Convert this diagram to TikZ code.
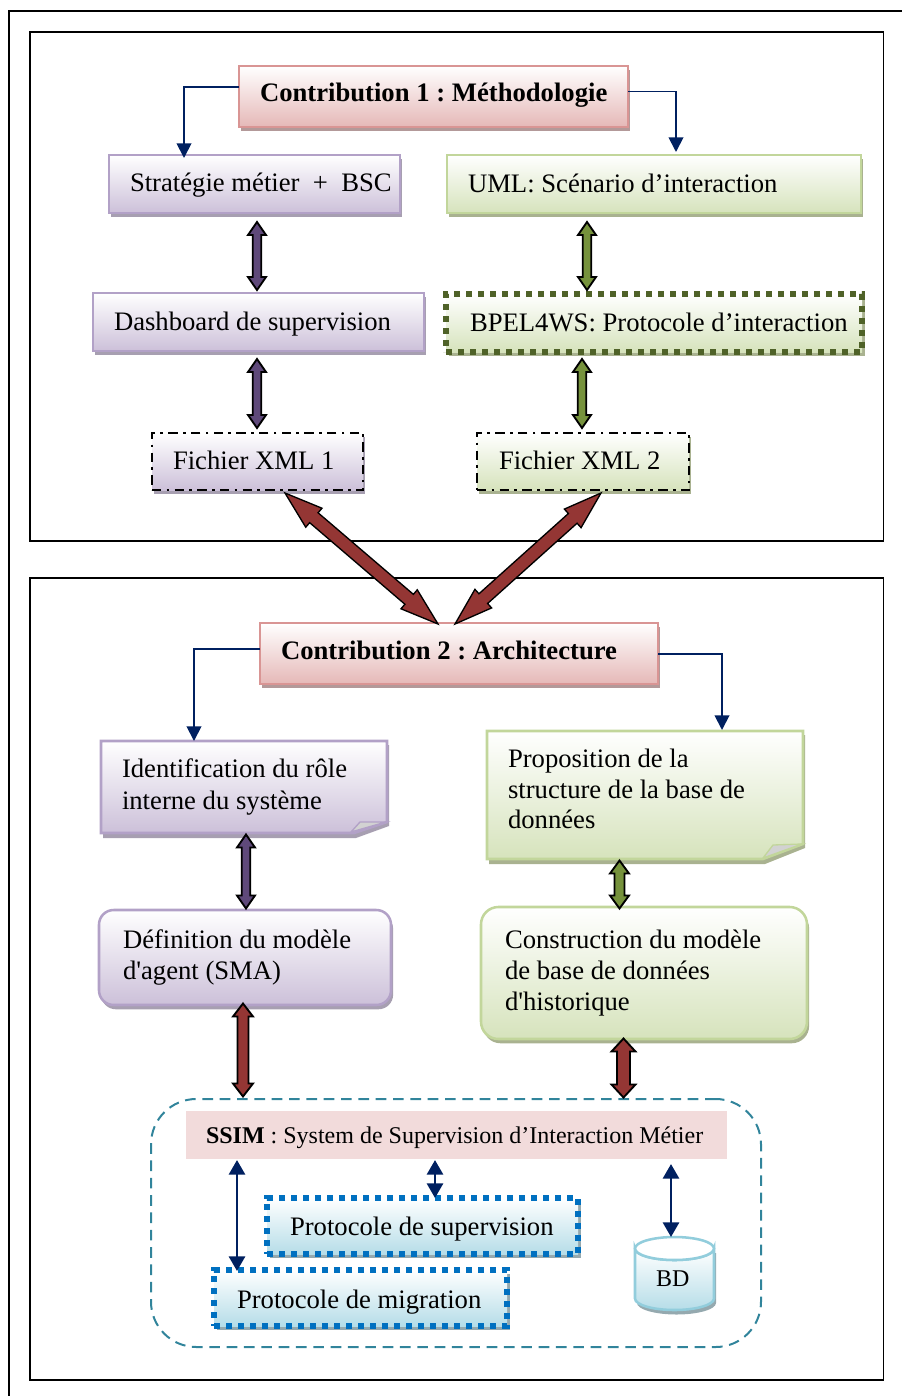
\documentclass[tikz,border=0pt]{standalone}
\usepackage{fontspec}
\setmainfont[Ligatures=TeXOff]{Liberation Serif}
\frenchspacing
\usetikzlibrary{calc,shadows,arrows.meta}
\definecolor{navy}{HTML}{002060}
\definecolor{pborder}{HTML}{B2A1C7}\definecolor{pfill}{HTML}{CCC0D9}\definecolor{pshadow}{HTML}{A79FB1}\definecolor{parrow}{HTML}{5F497A}
\definecolor{gborder}{HTML}{C2D69B}\definecolor{gfill}{HTML}{D6E3BC}\definecolor{gshadow}{HTML}{A9B290}\definecolor{garrow}{HTML}{76923C}\definecolor{gdot}{HTML}{4F6228}
\definecolor{rborder}{HTML}{D99594}\definecolor{rfill}{HTML}{E5B8B7}\definecolor{rshadow}{HTML}{B39999}\definecolor{rarrow}{HTML}{943634}
\definecolor{bborder}{HTML}{92CDDC}\definecolor{bfill}{HTML}{B6DDE8}\definecolor{bshadow}{HTML}{95A9AF}\definecolor{bdot}{HTML}{0070C0}
\definecolor{ssimfill}{HTML}{F2DBDB}\definecolor{cloudline}{HTML}{31849B}
\newcommand\lp[1]{\spaceskip=0pt\xspaceskip=0pt\hspace*{\dimexpr #1pt*3/4\relax}}
\newcommand\vs[2]{\raisebox{\dimexpr -#1pt*3/4\relax}[\height][\depth]{#2}}
% style, name, x1, y1, x2, y2, text
\newcommand\bx[7][]{%
  \pgfmathsetmacro\bwp{(#5-#3)*0.75}%
  \pgfmathsetmacro\bhp{(#6-#4)*0.75}%
  \node[txt,anchor=north west,minimum width=\bwp pt,text width=\bwp pt,minimum height=\bhp pt,#1] (#2) at (#3,#4) {#7};%
}
% colour, start, end, shaft, head width, head length (px)
\newcommand\blockarrow[7][1.4pt]{%
  \coordinate (ba) at #3;\coordinate (bb) at #4;%
  \pgfmathsetmacro\sw{#5*0.375}\pgfmathsetmacro\hw{#6*0.375}\pgfmathsetmacro\hl{#7*0.75}%
  \coordinate (ha) at ($(ba)!\hl pt!(bb)$);\coordinate (hb) at ($(bb)!\hl pt!(ba)$);%
  \draw[fill=#2,draw=black,line width=#1,line join=miter,miter limit=6]
    (ba) -- ($(ha)!\hw pt!90:(bb)$) -- ($(ha)!\sw pt!90:(bb)$) -- ($(hb)!\sw pt!-90:(ba)$) -- ($(hb)!\hw pt!-90:(ba)$)
    -- (bb) -- ($(hb)!\hw pt!90:(ba)$) -- ($(hb)!\sw pt!90:(ba)$) -- ($(ha)!\sw pt!-90:(bb)$) -- ($(ha)!\hw pt!-90:(bb)$) -- cycle;%
}
\tikzset{
  txt/.style={inner xsep=0pt,inner ysep=0pt,outer sep=0pt,align=left,font=\fontsize{20pt}{23pt}\selectfont},
  frameline/.style={draw=black,line width=1.2pt},
  purplebox/.style={draw=pborder,line width=1.9pt,top color=white,bottom color=pfill,general shadow={shadow xshift=1.6pt,shadow yshift=-3.2pt,fill=pshadow}},
  greenbox/.style={draw=gborder,line width=1.9pt,top color=white,bottom color=gfill,general shadow={shadow xshift=1.6pt,shadow yshift=-3.2pt,fill=gshadow}},
  redbox/.style={draw=rborder,line width=1.9pt,top color=white,bottom color=rfill,general shadow={shadow xshift=1.6pt,shadow yshift=-3.2pt,fill=rshadow}},
  greendot/.style={draw=gdot,line width=3.8pt,dash pattern=on 4.6pt off 4.4pt,top color=white,bottom color=gfill,general shadow={shadow xshift=2pt,shadow yshift=-3pt,fill=gshadow}},
  bluedot/.style={draw=bdot,line width=3.8pt,dash pattern=on 4.6pt off 4.4pt,top color=white,bottom color=bfill,general shadow={shadow xshift=2pt,shadow yshift=-3pt,fill=bshadow}},
  xmlline/.style={draw=black,line width=1.4pt,dash pattern=on 7pt off 4pt on 2pt off 4pt},
  thinarrow/.style={draw=navy,line width=1.4pt,-{Triangle[width=11pt,length=11pt]}},
  biarrow/.style={draw=navy,line width=2.2pt,{Triangle[width=12pt,length=11pt]}-{Triangle[width=12pt,length=11pt]}},
}
\begin{document}
\begin{tikzpicture}[x=0.75pt,y=-0.75pt]
\useasboundingbox (0,0) rectangle (901,1396);
% frames
\draw[frameline] (9,1400) -- (9,11) -- (905,11);
\draw[frameline] (30,32) rectangle (883.5,541);
\draw[frameline] (30,578) rectangle (883.5,1380);
% top part
\bx[redbox,font=\fontsize{20pt}{23pt}\selectfont\bfseries]{cone}{239}{66}{628}{127}{\lp{21}\vs{-1}{Contribution 1 : Méthodologie}}
\bx[purplebox]{strat}{109}{155}{400}{213}{\lp{21}\vs{1.5}{Stratégie métier\ \ +\ \ BSC}}
\bx[greenbox]{uml}{447}{155}{861}{213}{\lp{21}\vs{-1}{UML: Scénario d’interaction}}
\bx[purplebox]{dash}{93}{293}{424}{351}{\lp{21}\vs{2}{Dashboard de supervision}}
\bx[greendot]{bpel}{446}{294}{862}{352}{\lp{24}\vs{-1}{BPEL4WS: Protocole d’interaction}}
\bx[purplebox,xmlline]{xmlone}{152}{433}{363}{490}{\lp{21}\vs{-1}{Fichier XML 1}}
\bx[greenbox,xmlline]{xmltwo}{477}{433}{689}{490}{\lp{22}\vs{-1}{Fichier XML 2}}
% bottom part
\bx[redbox,font=\fontsize{20pt}{23pt}\selectfont\bfseries]{ctwo}{260}{623}{658}{684}{\lp{21}\vs{-3}{Contribution 2 : Architecture}}
% folded identification
\fill[pshadow] (103,745) -- (389,745) -- (389,826) -- (356,838) -- (103,838) -- cycle;
\draw[draw=pborder,line width=1.9pt,top color=white,bottom color=pfill] (101,741) -- (387,741) -- (387,822) -- (354,833) -- (101,833) -- cycle;
\fill[gray!35,draw=pborder,line width=1pt] (351,832) -- (360,822) -- (386,822) -- cycle;
\bx{ident}{101}{741}{387}{833}{\lp{21}Identification du rôle\\[1pt]\lp{21}interne du système}
% folded proposition
\fill[gshadow] (489,735) -- (805,735) -- (805,848) -- (765,864) -- (489,864) -- cycle;
\draw[draw=gborder,line width=1.9pt,top color=white,bottom color=gfill] (487,731) -- (803,731) -- (803,844) -- (763,859) -- (487,859) -- cycle;
\fill[gray!35,draw=gborder,line width=1pt] (763,858) -- (773,845) -- (802,844) -- cycle;
\bx{prop}{487}{731}{803}{847}{\lp{21}Proposition de la\\\lp{21}structure de la base de\\\lp{21}données}
\bx[purplebox,rounded corners=11pt]{defi}{99}{910}{391}{1005}{\lp{24}Définition du modèle\\\lp{24}d'agent (SMA)}
\bx[greenbox,rounded corners=13pt]{cons}{481}{907}{807}{1039}{\lp{24}Construction du modèle\\\lp{24}de base de données\\\lp{24}d'historique}
% SSIM group
\bx[draw=cloudline,line width=1.5pt,dash pattern=on 8pt off 5pt,rounded corners=34pt]{cloud}{151}{1099}{761}{1347}{}
\bx[fill=ssimfill,font=\fontsize{18pt}{21pt}\selectfont]{ssim}{186}{1111}{727}{1159}{\lp{20}\vs{3}{\textbf{SSIM} : System de Supervision d’Interaction Métier}}
\bx[bluedot]{sup}{267}{1198}{578}{1254}{\lp{23}\vs{3}{Protocole de supervision}}
\bx[bluedot]{mig}{214}{1270}{507}{1326}{\lp{23}\vs{4}{Protocole de migration}}
% database
\fill[bshadow] (637,1253) -- (637,1303) arc[start angle=180,end angle=0,x radius=39.5,y radius=11.5] -- (716,1253) -- cycle;
\draw[draw=bborder,line width=1.9pt,top color=white,bottom color=bfill] (635,1248.5) -- (635,1298.5) arc[start angle=180,end angle=0,x radius=39.5,y radius=11.5] -- (714,1248.5) arc[start angle=0,end angle=180,x radius=39.5,y radius=11.5] -- cycle;
\draw[draw=bborder,line width=1.9pt,fill=white] (674.5,1248.5) ellipse[x radius=39.5,y radius=11.5];
\bx[font=\fontsize{18pt}{21pt}\selectfont]{bd}{635}{1237}{714}{1321}{\lp{21}BD}
% thin connectors
\draw[thinarrow] ($(cone.west)+(0,-9.5)$) -| ($(strat.north)+(-70.5,3)$);
\draw[thinarrow] ($(cone.east)+(0,-5)$) -| ($(uml.north)+(22,-3)$);
\draw[thinarrow] ($(ctwo.west)+(0,-4.5)$) -| ($(ident.north)+(-50,0)$);
\draw[thinarrow] ($(ctwo.east)+(0,0.5)$) -| ($(prop.north)+(77,-1)$);
\draw[biarrow] ($(ssim.south)+(-219.5,1)$) -- ($(mig.north)+(-123.5,1)$);
\draw[biarrow] ($(ssim.south)+(-21.5,1)$) -- ($(sup.north)+(12.5,0)$);
\draw[biarrow] ($(ssim.south)+(214.5,5)$) -- ($(bd.north)+(-3.5,0)$);
% block connectors
\blockarrow{parrow}{($(strat.south)+(2.5,9)$)}{($(dash.north)+(-1.5,-3)$)}{8.5}{18}{13}
\blockarrow{parrow}{($(dash.south)+(-1.5,8)$)}{($(xmlone.north)+(-0.5,-5)$)}{8.5}{18}{13}
\blockarrow{garrow}{($(uml.north)+(-67,67)$)}{($(bpel.north)+(-67,-4)$)}{8.5}{18}{13}
\blockarrow{garrow}{($(bpel.south)+(-72,7)$)}{($(xmltwo.north)+(-1,-5)$)}{8.5}{18}{13}
\blockarrow[1pt]{rarrow}{($(xmlone.south)+(27.5,3)$)}{($(ctwo.north)+(-21,1)$)}{13}{25}{38}
\blockarrow[1pt]{rarrow}{($(xmltwo.south)+(18,3)$)}{($(ctwo.north)+(-4,1)$)}{13}{25}{38}
\blockarrow{parrow}{($(ident.south)+(2,1.5)$)}{($(defi.north)+(1,-1.5)$)}{8.5}{18}{13}
\blockarrow{rarrow}{($(defi.south)+(-2,-1.5)$)}{($(cloud.north)+(-213,-2.5)$)}{11}{20}{13}
\blockarrow{garrow}{($(prop.south)+(-25.5,13.5)$)}{($(cons.north)+(-24.5,1.5)$)}{10}{19}{13}
\blockarrow{rarrow}{($(cons.south)+(-20.5,-0.5)$)}{($(cloud.north)+(167.5,-1.5)$)}{13}{24}{13}
\end{tikzpicture}
\end{document}
